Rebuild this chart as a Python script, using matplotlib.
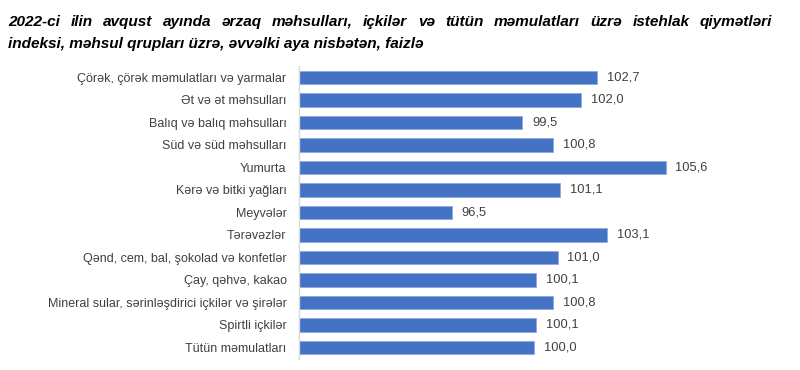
import matplotlib
matplotlib.use("Agg")
import matplotlib.pyplot as plt

categories = [
    "Çörək, çörək məmulatları və yarmalar",
    "Ət və ət məhsulları",
    "Balıq və balıq məhsulları",
    "Süd və süd məhsulları",
    "Yumurta",
    "Kərə və bitki yağları",
    "Meyvələr",
    "Tərəvəzlər",
    "Qənd, cem, bal, şokolad və konfetlər",
    "Çay, qəhvə, kakao",
    "Mineral sular, sərinləşdirici içkilər və şirələr",
    "Spirtli içkilər",
    "Tütün məmulatları",
]
values = [102.7, 102.0, 99.5, 100.8, 105.6, 101.1, 96.5, 103.1, 101.0, 100.1, 100.8, 100.1, 100.0]

title_line1 = "2022-ci ilin avqust ayında ərzaq məhsulları, içkilər və tütün məmulatları üzrə istehlak qiymətləri"
title_line2 = "indeksi, məhsul qrupları üzrə, əvvəlki aya nisbətən, faizlə"

plt.rcParams['font.family'] = ['Liberation Sans', 'DejaVu Sans']

W, H = 800, 370
fig = plt.figure(figsize=(8, 3.7), dpi=100)
ax = fig.add_axes([299 / W, 1 - 358.5 / H, (769 - 299) / W, (358.5 - 66) / H])

y = list(range(len(categories)))
ax.barh(y, [v - 90 for v in values], left=90, height=0.6, color="#4472C4",
        edgecolor="#8FAADC", linewidth=0.6)
ax.set_xlim(90, 110)
ax.set_ylim(len(categories) - 0.5, -0.5)
ax.set_yticks(y)
ax.set_yticklabels(categories, fontsize=9, color="#404040")
ax.tick_params(axis="y", length=0, pad=9)
ax.set_xticks([])
for s in ["top", "right", "bottom"]:
    ax.spines[s].set_visible(False)
ax.spines["left"].set_color("#D9D9D9")
ax.spines["left"].set_linewidth(1)

for yi, v in zip(y, values):
    ax.annotate(f"{v:.1f}".replace(".", ","), xy=(v, yi), xytext=(7, 0),
                textcoords="offset points", va="center", ha="left",
                fontsize=9.3, color="#404040")

# Title: justified first line
fig.canvas.draw()
renderer = fig.canvas.get_renderer()
x_left, x_right = 8 / W, 772 / W
words = title_line1.split(" ")
tprops = dict(fontsize=11.1, fontweight="bold", fontstyle="italic", color="black")
texts = []
widths = []
for w in words:
    t = fig.text(0, 1 - 25.7 / H, w, va="baseline", ha="left", **tprops)
    bb = t.get_window_extent(renderer)
    texts.append(t)
    widths.append(bb.width / W)
gap = (x_right - x_left - sum(widths)) / (len(words) - 1)
x = x_left
for t, wd in zip(texts, widths):
    t.set_x(x)
    x += wd + gap
fig.text(x_left, 1 - 47.7 / H, title_line2, va="baseline", ha="left", **tprops)

fig.savefig("out.png", dpi=100, facecolor="white")
